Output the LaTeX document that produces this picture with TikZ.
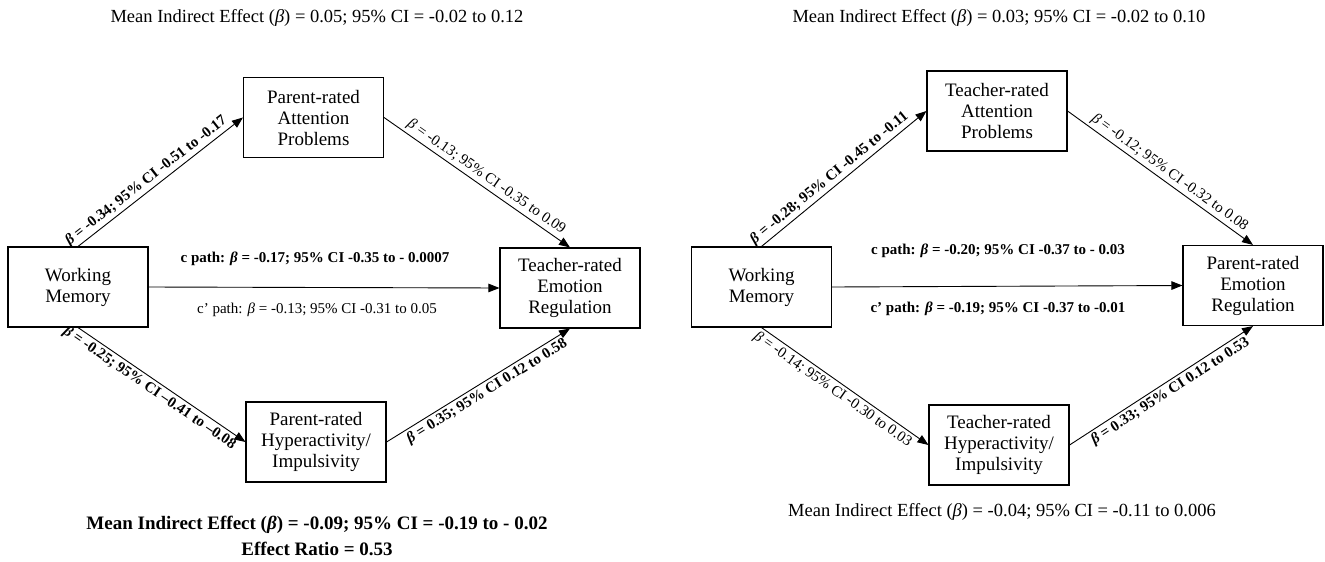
\documentclass[tikz,border=0pt]{standalone}
\usepackage{fontspec}
\setmainfont{Liberation Serif}
\usetikzlibrary{arrows.meta}
\newcommand{\bet}{{\itshape β}}
\begin{document}
\begin{tikzpicture}[x=1pt,y=-1pt,
  box/.style={draw, line width=1.1pt, minimum width=140pt, minimum height=80pt, align=center, font=\fontsize{19}{21}\selectfont, inner sep=2pt},
  arr/.style={line width=0.9pt, -{Triangle[length=11pt,width=8.5pt]}},
  lab/.style={font=\fontsize{15}{17}\selectfont, inner sep=2.5pt},
  blab/.style={font=\fontsize{15}{17}\selectfont\bfseries, inner sep=2.5pt},
  head/.style={font=\fontsize{18.5}{21}\selectfont},
  hb/.style={font=\fontsize{19}{21}\selectfont\bfseries},
]
\useasboundingbox (0,0) rectangle (1325,562);
% left panel
\node[box] (wm1) at (78,287) {Working\\Memory};
\node[box] (pa) at (313.5,117.5) {Parent-rated\\Attention\\Problems};
\node[box] (ter) at (570,288) {Teacher-rated\\Emotion\\Regulation};
\node[box] (ph) at (316,442) {Parent-rated\\Hyperactivity/\\Impulsivity};
\draw[arr] (wm1.north) -- node[blab, sloped, above, pos=0.45] {\bet{} = -0.34; 95\% CI -0.51 to -0.17} (pa.west);
\draw[arr] (pa.east) -- node[lab, sloped, above, pos=0.52] {\bet{} = -0.13; 95\% CI -0.35 to 0.09} (ter.north);
\draw[arr] (wm1.east) -- (ter.west);
\draw[arr] (wm1.south) -- node[blab, sloped, below, pos=0.46] {\bet{} = -0.25; 95\% CI –0.41 to –0.08} (ph.west);
\draw[arr] (ph.east) -- node[blab, sloped, below, pos=0.52] {\bet{} = 0.35; 95\% CI 0.12 to 0.58} (ter.south);
\node[blab] (c1) at (315,259) {c path: \bet{} = -0.17; 95\% CI -0.35 to - 0.0007};
\node[lab] (cp1) at (317,310) {c’ path: \bet{} = -0.13; 95\% CI -0.31 to 0.05};
\node[head] (h1) at (317,18) {Mean Indirect Effect (\bet) = 0.05; 95\% CI = -0.02 to 0.12};
\node[hb] (b1) at (317,525) {Mean Indirect Effect (\bet) = -0.09; 95\% CI = -0.19 to - 0.02};
\node[hb] (b2) at (317,549) {Effect Ratio = 0.53};
% right panel
\node[box] (wm2) at (761.5,287) {Working\\Memory};
\node[box] (tap) at (997,111) {Teacher-rated\\Attention\\Problems};
\node[box] (per) at (1253,285.5) {Parent-rated\\Emotion\\Regulation};
\node[box] (th) at (999,445) {Teacher-rated\\Hyperactivity/\\Impulsivity};
\draw[arr] (wm2.north) -- node[blab, sloped, above, pos=0.45] {\bet{} = -0.28; 95\% CI -0.45 to -0.11} (tap.west);
\draw[arr] (tap.east) -- node[lab, sloped, above, pos=0.52] {\bet{} = -0.12; 95\% CI -0.32 to 0.08} (per.north);
\draw[arr] (wm2.east) -- (per.west);
\draw[arr] (wm2.south) -- node[lab, sloped, below, pos=0.46] {\bet{} = -0.14; 95\% CI -0.30 to 0.03} (th.west);
\draw[arr] (th.east) -- node[blab, sloped, below, pos=0.52] {\bet{} = 0.33; 95\% CI 0.12 to 0.53} (per.south);
\node[blab] (c2) at (998,251) {c path: \bet{} = -0.20; 95\% CI -0.37 to - 0.03};
\node[blab] (cp2) at (998,309) {c’ path: \bet{} = -0.19; 95\% CI -0.37 to -0.01};
\node[head] (h2) at (999,18) {Mean Indirect Effect (\bet) = 0.03; 95\% CI = -0.02 to 0.10};
\node[head] (b3) at (1002,512) {Mean Indirect Effect (\bet) = -0.04; 95\% CI = -0.11 to 0.006};
\end{tikzpicture}
\end{document}
